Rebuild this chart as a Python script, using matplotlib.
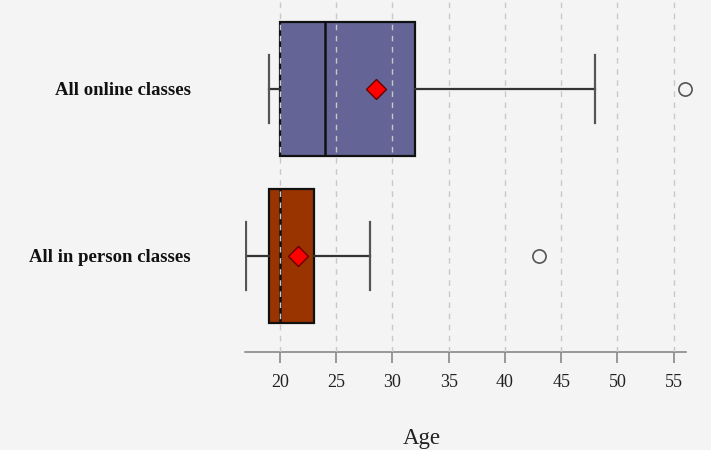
import matplotlib
matplotlib.use("Agg")
from matplotlib import pyplot as plt

# box statistics
categories = ["All in person classes", "All online classes"]
whislo = [17, 19]
q1 = [19, 20]
med = [20, 24]
q3 = [23, 32]
whishi = [28, 48]
means = [21.6, 28.5]
fliers = [[43], [56]]
colors = ["#993300", "#646496"]
xticks = [20, 25, 30, 35, 40, 45, 50, 55]

plt.rcParams["font.family"] = ["Liberation Serif", "DejaVu Serif"]

fig = plt.figure(figsize=(7.11, 4.5), dpi=100)
fig.patch.set_facecolor("#f4f4f4")
ax = fig.add_axes([0.3446, 0.218, 0.6204, 0.782])
ax.set_facecolor("#f4f4f4")

stats = []
for i, name in enumerate(categories):
    stats.append({
        "label": name,
        "whislo": whislo[i],
        "q1": q1[i],
        "med": med[i],
        "q3": q3[i],
        "whishi": whishi[i],
        "mean": means[i],
        "fliers": fliers[i],
    })

bp = ax.bxp(
    stats,
    positions=[0, 1],
    widths=0.8,
    vert=False,
    patch_artist=True,
    showmeans=True,
    boxprops=dict(edgecolor="#111111", linewidth=1.6),
    medianprops=dict(color="#111111", linewidth=1.8),
    whiskerprops=dict(color="#333333", linewidth=1.6),
    capprops=dict(color="#555555", linewidth=1.6),
    meanprops=dict(marker="D", markerfacecolor="red", markeredgecolor="#660000",
                   markersize=10.5, zorder=5),
    flierprops=dict(marker="o", markerfacecolor="none", markeredgecolor="#555555",
                    markersize=9.5, markeredgewidth=1.2, zorder=5),
)
for patch, c in zip(bp["boxes"], colors):
    patch.set_facecolor(c)
for cap in bp["caps"]:
    y = cap.get_ydata()
    mid = (y[0] + y[1]) / 2
    cap.set_ydata([mid - 0.205, mid + 0.205])
for fl in bp["fliers"]:
    fl.set_clip_on(False)

ax.set_xlim(16.9, 56.1)
ax.set_ylim(-0.575, 1.533)
ax.set_xticks(xticks)
ax.set_xticklabels([str(t) for t in xticks], fontsize=13, color="#222222")
ax.set_yticks([0, 1])
ax.set_yticklabels(categories, fontsize=13.5, fontweight="bold", color="#111111")
ax.tick_params(axis="y", length=0, pad=39)
ax.tick_params(axis="x", length=8, color="#888888", width=1.2, pad=8)

ax.set_axisbelow(False)
ax.grid(axis="x", linestyle=(0, (4, 4)), color="#c8c8c8", linewidth=1)
ax.grid(axis="y", visible=False)

for s in ["top", "left", "right"]:
    ax.spines[s].set_visible(False)
ax.spines["bottom"].set_color("#888888")
ax.spines["bottom"].set_linewidth(1.2)

ax.set_xlabel("Age", fontsize=16.5, color="#222222")
ax.xaxis.set_label_coords(0.4, -0.215)

fig.savefig("out.png", dpi=100, facecolor=fig.get_facecolor())
